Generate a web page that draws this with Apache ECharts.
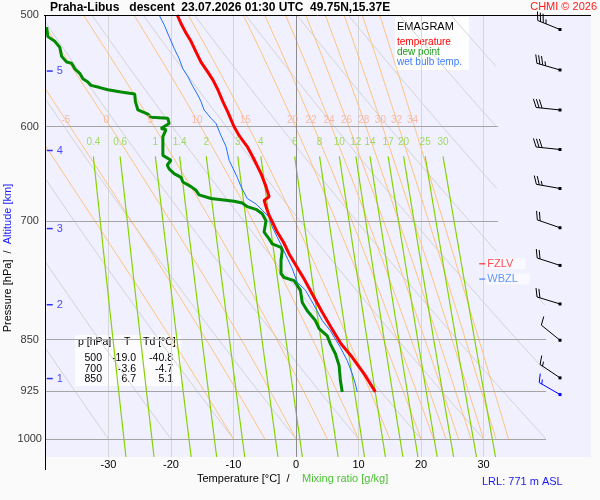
<!DOCTYPE html>
<html>
<head>
<meta charset="utf-8">
<script src="https://cdn.jsdelivr.net/npm/echarts@6/dist/echarts.min.js"></script>
<style>
html, body { margin: 0; padding: 0; background: #fafafa; }
#main { width: 600px; height: 500px; }
</style>
</head>
<body>
<div id="main"></div>
<script>
// sounding data
var tempP = [500, 507, 515, 522, 531, 540, 549, 556, 565, 576, 586, 599, 609, 620, 632, 648, 662, 673, 677, 684, 694, 701, 713, 725, 739, 753, 770, 789, 813, 833, 856, 875, 899, 926];
var tempT = [-19.0, -18.4, -17.6, -16.8, -16.0, -15.2, -14.1, -13.3, -12.5, -11.7, -10.9, -10.0, -9.1, -7.8, -6.8, -5.6, -4.8, -4.3, -5.1, -4.8, -4.3, -3.8, -3.0, -2.0, -1.1, 0.0, 1.3, 2.6, 4.2, 5.6, 7.2, 9.0, 10.9, 12.7];

var dewP = [510, 518, 522, 527, 535, 540, 541, 546, 550, 555, 558, 561, 563, 565, 567, 569, 576, 584, 588, 591, 592, 597, 602, 603, 610, 620, 629, 634, 639, 643, 648, 652, 657, 662, 666, 671, 675, 678, 680, 684, 687, 692, 700, 713, 721, 727, 731, 735, 747, 763, 768, 772, 784, 800, 811, 824, 835, 845, 856, 870, 887, 909, 926];
var dewT = [-39.9, -39.7, -38.6, -37.8, -37.5, -36.7, -35.9, -35.4, -34.6, -34.1, -33.3, -32.8, -31.4, -30.1, -28.0, -25.8, -25.7, -25.3, -23.7, -23.2, -20.5, -20.3, -21.6, -20.8, -21.3, -21.3, -21.3, -20.0, -20.6, -20.3, -19.5, -18.4, -18.1, -16.8, -16.0, -15.5, -13.6, -9.9, -8.6, -7.8, -6.4, -5.4, -4.8, -5.1, -4.3, -3.8, -2.4, -2.2, -2.4, -2.4, -1.9, -0.3, 0.7, 1.0, 1.8, 3.1, 3.7, 5.0, 5.5, 6.3, 6.9, 7.1, 7.4];

var wbP = [500, 508, 518, 528, 537, 546, 553, 562, 570, 576, 584, 592, 597, 609, 620, 634, 652, 662, 675, 681, 688, 696, 707, 719, 731, 744, 757, 770, 774, 784, 804, 824, 838, 861, 880, 899, 914, 926];
var wbT = [-21.9, -21.1, -20.3, -19.5, -18.7, -18.1, -17.3, -16.5, -15.7, -15.2, -14.7, -13.6, -12.8, -12.0, -11.2, -10.7, -9.4, -8.8, -7.8, -6.4, -5.4, -4.3, -3.8, -3.0, -2.2, -1.4, -0.6, 0.0, 0.2, 1.5, 2.9, 4.2, 5.5, 7.1, 8.2, 9.0, 9.5, 9.8];

var windP   = [512, 547, 584, 623, 664, 708, 753, 802, 851, 905, 930];
var windDir = [292, 286, 276, 276, 280, 289, 288, 287, 309, 304, 300];
var windSpd = [35, 35, 30, 30, 25, 20, 20, 20, 10, 15, 15];
var windSfc = [0, 0, 0, 0, 0, 0, 0, 0, 0, 0, 1];

var altKm = [1, 2, 3, 4, 5];
var altP = [906, 803, 709, 624, 548];

var pressureTicks = [500, 600, 700, 850, 925, 1000];
var thetaDry = [-40, -30, -20, -10, 0, 10, 20, 30, 40, 50, 60, 70, 80, 90, 100, 110];
var thetaW = [-10, -5, 0, 5, 10, 15, 20, 22, 24, 26, 28, 30, 32, 34];
var mixRatio = [0.4, 0.6, 1, 1.4, 2, 3, 4, 6, 8, 10, 12, 14, 17, 20, 25, 30];

var tableP = [500, 700, 850];
var tableT = ['-19.0', '-3.6', '6.7'];
var tableTd = ['-40.8', '-4.7', '5.1'];

var fzlvP = 751;
var wbzlP = 770;
var lrlText = 'LRL: 771 m ASL';

var FONT = 'Liberation Sans, Arial, sans-serif';
var P_TOP = 500, P_BOT = 1030;

// right limit of the diagram lines (upper part is narrower)
function edgeT(p) { return p < 790 ? 32.3 : 40; }
function clipPts(pts) {
    return pts.map(function (d) { return d[0] <= edgeT(d[1]) ? d : ['-', '-']; });
}
function es(tc) { return 6.112 * Math.exp(17.67 * tc / (tc + 243.5)); }
function moistRate(T, p) {
    var e = es(T - 273.15), rs = 0.622 * e / (p - e);
    var L = 2.501e6;
    return (287.04 * T + L * rs) / (p * (1005.7 + L * L * rs * 0.622 / (287.04 * T * T)));
}
function moistLine(tw) {
    var T = tw + 273.15, pts = [], p = 1000;
    pts.push([tw, 1000]);
    while (p > P_TOP) {
        var k1 = moistRate(T, p);
        var k2 = moistRate(T - 0.5 * k1, p - 0.5);
        T -= k2; p -= 1;
        if (p % 2 === 0) pts.push([T - 273.15, p]);
    }
    return pts;
}
function moistAt(pts, p) {
    for (var i = 0; i < pts.length; i++) if (pts[i][1] <= p) return pts[i][0];
    return pts[pts.length - 1][0];
}
function mixTd(w, p) {
    var e = w * p / (622 + w), l = Math.log(e / 6.112);
    return 243.5 * l / (17.67 - l);
}
function pairs(xs, ys) { return xs.map(function (x, i) { return [x, ys[i]]; }); }

var series = [];

thetaDry.forEach(function (th) {
    var pts = [];
    for (var p = P_TOP; p <= 1000; p += 2) pts.push([(th + 273.15) * Math.pow(p / 1000, 0.2857) - 273.15, p]);
    series.push({ type: 'line', data: clipPts(pts), symbol: 'none', silent: true, z: 1,
        lineStyle: { color: '#d2d2d2', width: 1 } });
});

var moistLabels = [];
thetaW.forEach(function (tw) {
    var pts = moistLine(tw);
    series.push({ type: 'line', data: clipPts(pts), symbol: 'none', silent: true, z: 1,
        lineStyle: { color: '#ffc27a', width: 1 } });
    moistLabels.push({ value: [moistAt(pts, 594), 594], name: String(tw) });
});

var mixLabels = [];
mixRatio.forEach(function (w) {
    var pts = [];
    for (var p = 630; p <= P_BOT; p += 10) pts.push([mixTd(w, p), p]);
    series.push({ type: 'line', data: pts, symbol: 'none', silent: true, z: 2,
        lineStyle: { color: '#86d300', width: 1.2 } });
    mixLabels.push({ value: [mixTd(w, 630), 616], name: String(w) });
});

// grid lines
series.push({
    type: 'line', data: [], silent: true, z: 3,
    markLine: {
        silent: true, symbol: 'none', animation: false, label: { show: false },
        lineStyle: { color: '#a4a4a4', width: 1, type: 'solid' },
        data: pressureTicks.slice(1).map(function (p) {
            return [{ coord: [-40, p] }, { coord: [edgeT(p), p] }];
        }).concat([[{ coord: [0, P_TOP], lineStyle: { color: '#8c8c8c' } }, { coord: [0, P_BOT] }]])
    }
});

series.push({ type: 'line', name: 'wet bulb temp.', data: pairs(wbT, wbP), symbol: 'none', z: 5,
    lineStyle: { color: '#1f6fff', width: 1 } });
series.push({ type: 'line', name: 'dew point', data: pairs(dewT, dewP), symbol: 'none', z: 6,
    lineStyle: { color: '#008a00', width: 3 } });
series.push({ type: 'line', name: 'temperature', data: pairs(tempT, tempP), symbol: 'none', z: 7,
    lineStyle: { color: '#ff0000', width: 3 } });

// line labels
series.push({ type: 'scatter', data: moistLabels, symbolSize: 0, silent: true, z: 8,
    label: { show: true, position: 'inside', formatter: '{b}', color: '#f9ad95', fontSize: 10, fontFamily: FONT } });
series.push({ type: 'scatter', data: mixLabels, symbolSize: 0, silent: true, z: 8,
    label: { show: true, position: 'inside', formatter: '{b}', color: '#8cd43a', fontSize: 10, fontFamily: FONT } });

// pressure labels left of the plot
series.push({ type: 'scatter', clip: false, symbolSize: 0, silent: true, z: 8,
    data: pressureTicks.map(function (p) { return { value: [-42.6, p], name: String(p) }; }),
    label: { show: true, position: 'inside', formatter: '{b}', color: '#000', fontSize: 11, fontFamily: FONT } });

// altitude marks
series.push({ type: 'scatter', symbol: 'rect', symbolSize: [6, 1.5], silent: true, z: 8,
    itemStyle: { color: '#0000ee' },
    data: altKm.map(function (k, i) { return { value: [-39.4, altP[i]], name: String(k) }; }),
    label: { show: true, position: 'right', distance: 4, formatter: '{b}', color: '#1a1aff', fontSize: 11, fontFamily: FONT } });

// freezing level / wet bulb zero
series.push({ type: 'scatter', symbol: 'rect', symbolSize: [6, 1.2], silent: true, z: 9,
    data: [
        { value: [29.8, fzlvP], name: 'FZLV', itemStyle: { color: '#ff0000' }, label: { color: '#ff2020' } },
        { value: [29.8, wbzlP], name: 'WBZL', itemStyle: { color: '#1f6fff' }, label: { color: '#3a7cff' } }
    ],
    label: { show: true, position: 'right', distance: 1, formatter: '{b}', fontSize: 11, fontFamily: FONT,
        backgroundColor: 'rgba(255,255,255,0.75)', padding: [0, 12, 0, 1] } });

// wind barbs
series.push({
    type: 'custom', xAxisIndex: 1, yAxisIndex: 1, silent: true, clip: false, z: 9,
    data: windP.map(function (p, i) { return [14, p, windDir[i], windSpd[i], windSfc[i]]; }),
    renderItem: function (params, api) {
        var pt = api.coord([api.value(0), api.value(1)]);
        var a = api.value(2) * Math.PI / 180, spd = api.value(3);
        var col = api.value(4) ? '#0000ff' : '#000000';
        var ux = Math.sin(a), uy = -Math.cos(a);
        var px = -uy, py = ux;
        if (py > 0) { px = -px; py = -py; }
        var L = 24, ex = pt[0] + ux * L, ey = pt[1] + uy * L;
        var bx = 0.4 * ux + 0.92 * px, by = 0.4 * uy + 0.92 * py;
        var kids = [
            { type: 'line', shape: { x1: pt[0], y1: pt[1], x2: ex, y2: ey }, style: { stroke: col, lineWidth: 1 } },
            { type: 'rect', shape: { x: pt[0] - 1.5, y: pt[1] - 1.5, width: 3, height: 3 }, style: { fill: col } }
        ];
        var n10 = Math.floor(spd / 10), n5 = Math.round((spd % 10) / 5), pos = 0;
        for (var i = 0; i < n10; i++) {
            var sx = ex - ux * pos, sy = ey - uy * pos;
            kids.push({ type: 'line', shape: { x1: sx, y1: sy, x2: sx + bx * 9, y2: sy + by * 9 }, style: { stroke: col, lineWidth: 1 } });
            pos += 3;
        }
        if (n5) {
            if (n10 === 0) pos = 3;
            var hx = ex - ux * pos, hy = ey - uy * pos;
            kids.push({ type: 'line', shape: { x1: hx, y1: hy, x2: hx + bx * 4.5, y2: hy + by * 4.5 }, style: { stroke: col, lineWidth: 1 } });
        }
        return { type: 'group', children: kids };
    }
});

var tableTexts = [
    { type: 'text', left: 78, top: 337, style: { text: 'p [hPa]', font: '10.5px ' + FONT, fill: '#000' } },
    { type: 'text', left: 124, top: 337, style: { text: 'T', font: '10.5px ' + FONT, fill: '#000' } },
    { type: 'text', left: 143, top: 337, style: { text: 'Td [°C]', font: '10.5px ' + FONT, fill: '#000' } }
];
tableP.forEach(function (p, i) {
    var y = 358.5 + i * 10.3;
    tableTexts.push({ type: 'text', x: 102, y: y, style: { text: String(p), font: '10.5px ' + FONT, fill: '#000', textAlign: 'right', textVerticalAlign: 'middle' } });
    tableTexts.push({ type: 'text', x: 136, y: y, style: { text: tableT[i], font: '10.5px ' + FONT, fill: '#000', textAlign: 'right', textVerticalAlign: 'middle' } });
    tableTexts.push({ type: 'text', x: 173, y: y, style: { text: tableTd[i], font: '10.5px ' + FONT, fill: '#000', textAlign: 'right', textVerticalAlign: 'middle' } });
});

var chart = echarts.init(document.getElementById('main'));
chart.setOption({
    animation: false,
    backgroundColor: '#fafafa',
    textStyle: { fontFamily: FONT },
    grid: [
        { left: 46, right: 54, top: 15, bottom: 43, show: true, backgroundColor: '#f0f0ff', borderWidth: 0 },
        { left: 546, right: 9, top: 15, bottom: 43, show: true, backgroundColor: '#f0f0ff', borderWidth: 0 }
    ],
    xAxis: [
        { type: 'value', gridIndex: 0, min: -40, max: 40, interval: 10,
          axisLine: { show: false }, axisTick: { show: false },
          axisLabel: { fontSize: 11, color: '#000', margin: 2, showMinLabel: false, showMaxLabel: false, fontFamily: FONT },
          splitLine: { show: true, showMinLine: false, showMaxLine: false, lineStyle: { color: '#d6d6d6', width: 1 } } },
        { type: 'value', gridIndex: 1, min: 0, max: 45, show: false }
    ],
    yAxis: [
        { type: 'log', logBase: 10, gridIndex: 0, min: P_TOP, max: P_BOT, inverse: true,
          axisLine: { show: false }, axisTick: { show: false }, axisLabel: { show: false }, splitLine: { show: false } },
        { type: 'log', logBase: 10, gridIndex: 1, min: P_TOP, max: P_BOT, inverse: true, show: false }
    ],
    series: series,
    graphic: [
        { type: 'line', shape: { x1: 44, y1: 15.5, x2: 591, y2: 15.5 }, style: { stroke: '#000', lineWidth: 1 }, z: 100 },
        { type: 'line', shape: { x1: 45.5, y1: 15, x2: 45.5, y2: 470 }, style: { stroke: '#000', lineWidth: 1 }, z: 100 },
        { type: 'text', x: 50, y: 8, style: { text: 'Praha-Libus   descent  23.07.2026 01:30 UTC  49.75N,15.37E', font: 'bold 12px ' + FONT, fill: '#000', textVerticalAlign: 'middle' }, z: 100 },
        { type: 'text', x: 597, y: 7, style: { text: 'CHMI © 2026', font: '11px ' + FONT, fill: '#ff1a1a', textAlign: 'right', textVerticalAlign: 'middle' }, z: 100 },
        { type: 'group', z: 100, children: [
            { type: 'rect', shape: { x: 395, y: 17, width: 74, height: 53 }, style: { fill: 'rgba(255,255,255,0.88)' } },
            { type: 'text', x: 397, y: 26.5, style: { text: 'EMAGRAM', font: '11px ' + FONT, fill: '#000', textVerticalAlign: 'middle' } },
            { type: 'text', x: 397, y: 42.3, style: { text: 'temperature', font: '10px ' + FONT, fill: '#ff0000', textVerticalAlign: 'middle' } },
            { type: 'text', x: 397, y: 51.8, style: { text: 'dew point', font: '10px ' + FONT, fill: '#1a9e1a', textVerticalAlign: 'middle' } },
            { type: 'text', x: 397, y: 61.8, style: { text: 'wet bulb temp.', font: '10px ' + FONT, fill: '#3a7cff', textVerticalAlign: 'middle' } }
        ] },
        { type: 'group', z: 100, children: [
            { type: 'rect', shape: { x: 75, y: 335, width: 106, height: 51 }, style: { fill: 'rgba(255,255,255,0.8)' } }
        ].concat(tableTexts) },
        { type: 'text', x: 197, y: 479, style: { text: 'Temperature [°C]  /', font: '11px ' + FONT, fill: '#000', textVerticalAlign: 'middle' }, z: 100 },
        { type: 'text', x: 302, y: 479, style: { text: 'Mixing ratio [g/kg]', font: '11px ' + FONT, fill: '#4cc234', textVerticalAlign: 'middle' }, z: 100 },
        { type: 'text', x: 482, y: 482, style: { text: lrlText, font: '11px ' + FONT, fill: '#1a1aee', textVerticalAlign: 'middle' }, z: 100 },
        { type: 'text', x: 8, y: 258, rotation: Math.PI / 2, z: 100,
          style: { text: '{p|Pressure [hPa]  /  }{a|Altitude [km]}', textAlign: 'center', textVerticalAlign: 'middle',
                   rich: { p: { font: '11px ' + FONT, fill: '#000' }, a: { font: '11px ' + FONT, fill: '#1a1aff' } } } }
    ]
});
</script>
</body>
</html>
